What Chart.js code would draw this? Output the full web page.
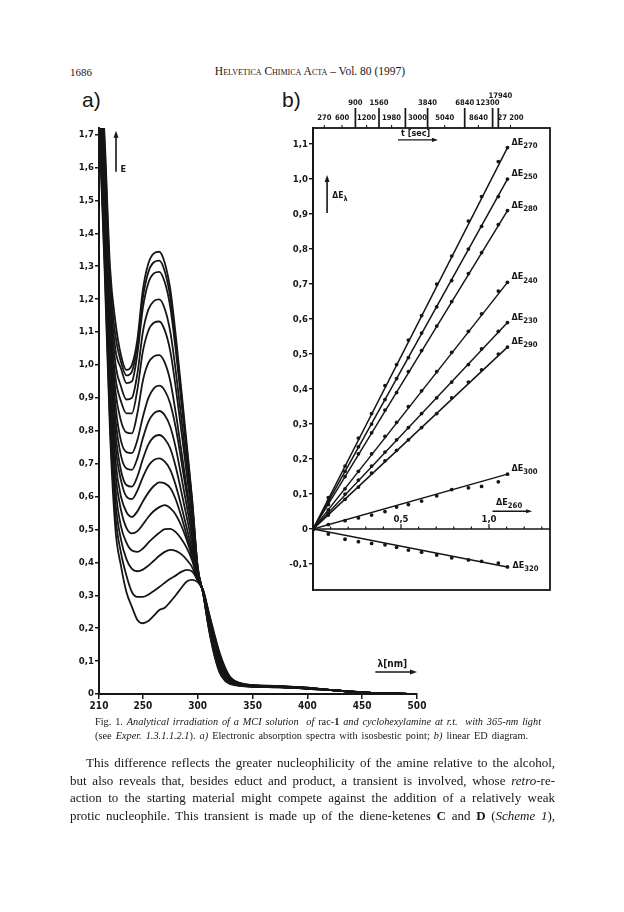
<!DOCTYPE html>
<html>
<head>
<meta charset="utf-8">
<script src="https://cdn.jsdelivr.net/npm/chart.js@4.4.1/dist/chart.umd.min.js"></script>
<style>
    body { margin: 0; background: #fff; width: 624px; height: 912px; position: relative; overflow: hidden;
           font-family: 'Liberation Serif', 'Times New Roman', serif; color: #161616; }
    .t { position: absolute; white-space: nowrap; }
    .sc { font-variant: small-caps; }
    .panel { position: absolute; font-family: 'Liberation Sans', Arial, sans-serif; font-size: 21px; line-height: 1; }
    #chartA { position: absolute; left: 40px; top: 110px; }
    #chartB { position: absolute; left: 270px; top: 80px; }
    .cap { position: absolute; left: 95px; width: 446px; font-size: 10.3px; line-height: 14px; text-align: justify; text-align-last: justify; }
    .body { position: absolute; left: 70px; width: 485px; font-size: 13px; line-height: 17.4px; text-align: justify; text-align-last: justify; }
    i { font-style: italic; }
</style>
</head>
<body>

<div class="t" style="left:70px; top:66px; font-size:11px;">1686</div>
<div class="t" style="left:0; width:620px; text-align:center; top:65px; font-size:11.5px;"><span class="sc">Helvetica Chimica Acta</span> – Vol. 80 (1997)</div>

<div class="panel" style="left:82px; top:89px;">a)</div>
<div class="panel" style="left:282px; top:89px;">b)</div>

<canvas id="chartA" width="400" height="606"></canvas>
<canvas id="chartB" width="300" height="520"></canvas>

<div class="cap" style="top:715px;">Fig. 1. <i>Analytical irradiation of a MCI solution&nbsp; of</i> rac-<b>1</b> <i>and cyclohexylamine at r.t.&nbsp; with 365-nm light</i></div>
<div class="cap" style="top:729px; width:433px;">(see <i>Exper. 1.3.1.1.2.1</i>). <i>a)</i> Electronic absorption spectra with isosbestic point; <i>b)</i> linear ED diagram.</div>

<div class="body" style="top:754px; left:86px; width:469px;">This difference reflects the greater nucleophilicity of the amine relative to the alcohol,</div>
<div class="body" style="top:771.5px;">but also reveals that, besides educt and product, a transient is involved, whose <i>retro</i>-re-</div>
<div class="body" style="top:789px;">action to the starting material might compete against the addition of a relatively weak</div>
<div class="body" style="top:806.5px;">protic nucleophile. This transient is made up of the diene-ketenes <b>C</b> and <b>D</b> (<i>Scheme 1</i>),</div>

<script>
// Panel a) - absorption spectra, one array per recorded spectrum
const wavelengths = [210, 215, 220, 225, 230, 235, 240, 245, 250, 255, 260, 265, 270, 275, 280, 285, 290, 295, 300,
                     305, 310, 315, 320, 325, 330, 340, 350, 375, 400, 425, 450, 475, 500];

const spec01 = [1.95, 1.70, 1.30, 1.13, 1.03, 0.985, 1.00, 1.078, 1.228, 1.308, 1.339, 1.344, 1.31, 1.23, 1.09, 0.927, 0.76, 0.59, 0.387,
                0.305, 0.20, 0.12, 0.065, 0.04, 0.03, 0.024, 0.022, 0.020, 0.016, 0.011, 0.005, 0.002, 0];
const spec02 = [1.937, 1.673, 1.267, 1.088, 1.01, 0.968, 0.98, 1.06, 1.204, 1.282, 1.312, 1.317, 1.284, 1.206, 1.069, 0.911, 0.748, 0.583, 0.385,
                0.306, 0.203, 0.124, 0.069, 0.043, 0.031, 0.025, 0.022, 0.020, 0.016, 0.011, 0.005, 0.002, 0];
const spec03 = [1.923, 1.647, 1.233, 1.046, 0.99, 0.945, 0.95, 1.033, 1.173, 1.249, 1.278, 1.283, 1.251, 1.176, 1.044, 0.891, 0.734, 0.574, 0.383,
                0.306, 0.207, 0.129, 0.073, 0.045, 0.033, 0.025, 0.023, 0.021, 0.016, 0.011, 0.005, 0.002, 0];
const spec04 = [1.91, 1.62, 1.20, 1.004, 0.935, 0.895, 0.90, 0.973, 1.10, 1.168, 1.194, 1.199, 1.17, 1.101, 0.981, 0.841, 0.698, 0.552, 0.378,
                0.307, 0.21, 0.133, 0.077, 0.048, 0.034, 0.026, 0.023, 0.021, 0.017, 0.011, 0.005, 0.002, 0];
const spec05 = [1.897, 1.593, 1.167, 0.962, 0.89, 0.853, 0.853, 0.925, 1.041, 1.104, 1.128, 1.132, 1.105, 1.042, 0.931, 0.802, 0.669, 0.535, 0.374,
                0.308, 0.213, 0.137, 0.081, 0.051, 0.035, 0.026, 0.023, 0.021, 0.017, 0.011, 0.005, 0.002, 0];
const spec06 = [1.883, 1.567, 1.133, 0.92, 0.83, 0.795, 0.792, 0.853, 0.952, 1.006, 1.026, 1.03, 1.007, 0.951, 0.854, 0.741, 0.626, 0.508, 0.368,
                0.308, 0.217, 0.142, 0.085, 0.053, 0.037, 0.027, 0.024, 0.021, 0.017, 0.011, 0.005, 0.002, 0];
const spec07 = [1.87, 1.54, 1.10, 0.878, 0.77, 0.735, 0.732, 0.772, 0.842, 0.899, 0.929, 0.937, 0.922, 0.882, 0.809, 0.711, 0.607, 0.497, 0.366,
                0.309, 0.22, 0.146, 0.089, 0.056, 0.038, 0.027, 0.024, 0.022, 0.017, 0.011, 0.005, 0.002, 0];
const spec08 = [1.857, 1.513, 1.067, 0.836, 0.725, 0.685, 0.681, 0.716, 0.777, 0.827, 0.853, 0.86, 0.847, 0.812, 0.748, 0.662, 0.572, 0.476, 0.363,
                0.310, 0.223, 0.150, 0.093, 0.059, 0.039, 0.028, 0.024, 0.022, 0.017, 0.011, 0.005, 0.002, 0];
const spec09 = [1.843, 1.487, 1.033, 0.794, 0.68, 0.635, 0.63, 0.661, 0.714, 0.758, 0.781, 0.787, 0.775, 0.746, 0.69, 0.616, 0.538, 0.455, 0.358,
                0.310, 0.227, 0.155, 0.097, 0.061, 0.041, 0.028, 0.025, 0.022, 0.018, 0.011, 0.005, 0.002, 0];
const spec10 = [1.83, 1.46, 1.00, 0.752, 0.65, 0.60, 0.592, 0.618, 0.659, 0.693, 0.711, 0.716, 0.706, 0.681, 0.634, 0.572, 0.505, 0.435, 0.353,
                0.311, 0.23, 0.159, 0.101, 0.064, 0.042, 0.029, 0.025, 0.022, 0.018, 0.011, 0.005, 0.002, 0];
const spec11 = [1.817, 1.433, 0.967, 0.71, 0.60, 0.553, 0.538, 0.555, 0.585, 0.612, 0.632, 0.643, 0.64, 0.626, 0.591, 0.54, 0.482, 0.422, 0.352,
                0.312, 0.233, 0.163, 0.105, 0.067, 0.043, 0.029, 0.025, 0.023, 0.018, 0.011, 0.005, 0.002, 0];
const spec12 = [1.803, 1.407, 0.933, 0.668, 0.56, 0.505, 0.488, 0.495, 0.515, 0.538, 0.556, 0.568, 0.574, 0.565, 0.545, 0.512, 0.468, 0.415, 0.35,
                0.312, 0.237, 0.168, 0.109, 0.069, 0.045, 0.030, 0.026, 0.023, 0.018, 0.011, 0.005, 0.002, 0];
const spec13 = [1.79, 1.38, 0.90, 0.626, 0.51, 0.46, 0.436, 0.432, 0.442, 0.46, 0.476, 0.49, 0.501, 0.502, 0.492, 0.472, 0.444, 0.405, 0.348,
                0.313, 0.24, 0.172, 0.113, 0.072, 0.046, 0.030, 0.026, 0.023, 0.018, 0.011, 0.005, 0.002, 0];
const spec14 = [1.777, 1.353, 0.867, 0.584, 0.47, 0.41, 0.38, 0.373, 0.378, 0.39, 0.405, 0.42, 0.432, 0.438, 0.435, 0.425, 0.408, 0.385, 0.345,
                0.314, 0.243, 0.176, 0.117, 0.075, 0.047, 0.031, 0.026, 0.023, 0.019, 0.011, 0.005, 0.002, 0];
const spec15 = [1.763, 1.327, 0.833, 0.542, 0.43, 0.36, 0.31, 0.295, 0.295, 0.302, 0.313, 0.325, 0.338, 0.35, 0.36, 0.371, 0.377, 0.372, 0.345,
                0.314, 0.247, 0.181, 0.121, 0.077, 0.049, 0.031, 0.027, 0.024, 0.019, 0.011, 0.005, 0.002, 0];
const spec16 = [1.75, 1.30, 0.80, 0.50, 0.39, 0.31, 0.265, 0.225, 0.215, 0.222, 0.238, 0.255, 0.262, 0.28, 0.30, 0.322, 0.342, 0.347, 0.34,
                0.315, 0.25, 0.185, 0.125, 0.08, 0.05, 0.032, 0.027, 0.024, 0.019, 0.011, 0.005, 0.002, 0];

const spectra = [spec01, spec02, spec03, spec04, spec05, spec06, spec07, spec08,
                 spec09, spec10, spec11, spec12, spec13, spec14, spec15, spec16];

const xTicksA = [210, 250, 300, 350, 400, 450, 500];
const yTicksA = [0, 0.1, 0.2, 0.3, 0.4, 0.5, 0.6, 0.7, 0.8, 0.9, 1.0, 1.1, 1.2, 1.3, 1.4, 1.5, 1.6, 1.7];

// Panel b) - linear ED diagram (ΔEλ against ΔE260)
const dE260 = [0, 0.087, 0.182, 0.258, 0.333, 0.409, 0.475, 0.542, 0.617, 0.703, 0.788, 0.883, 0.958, 1.053, 1.105];
const dE270 = [0, 0.09, 0.18, 0.26, 0.33, 0.41, 0.47, 0.54, 0.61, 0.70, 0.78, 0.88, 0.95, 1.05, 1.09];
const dE250 = [0, 0.08, 0.165, 0.235, 0.30, 0.37, 0.43, 0.49, 0.56, 0.635, 0.71, 0.80, 0.865, 0.95, 1.0];
const dE280 = [0, 0.07, 0.15, 0.215, 0.275, 0.34, 0.39, 0.45, 0.51, 0.58, 0.65, 0.73, 0.79, 0.87, 0.91];
const dE240 = [0, 0.055, 0.115, 0.165, 0.215, 0.265, 0.305, 0.35, 0.395, 0.45, 0.505, 0.565, 0.615, 0.68, 0.705];
const dE230 = [0, 0.045, 0.10, 0.14, 0.18, 0.22, 0.255, 0.29, 0.33, 0.375, 0.42, 0.47, 0.515, 0.565, 0.59];
const dE290 = [0, 0.04, 0.085, 0.12, 0.16, 0.195, 0.225, 0.255, 0.29, 0.33, 0.375, 0.42, 0.455, 0.50, 0.52];
const dE300 = [0, 0.013, 0.024, 0.032, 0.04, 0.05, 0.063, 0.07, 0.08, 0.095, 0.113, 0.118, 0.122, 0.135, 0.157];
const dE320 = [0, -0.014, -0.029, -0.036, -0.041, -0.045, -0.052, -0.06, -0.066, -0.074, -0.082, -0.088, -0.092, -0.097, -0.108];

const seriesB = [
    { sub: '270', values: dE270 },
    { sub: '250', values: dE250 },
    { sub: '280', values: dE280 },
    { sub: '240', values: dE240 },
    { sub: '230', values: dE230 },
    { sub: '290', values: dE290 },
    { sub: '300', values: dE300 },
    { sub: '320', values: dE320 }
];

// irradiation times (top axis), one per ΔE260 value after the origin
const timeLabels = ['270', '600', '900', '1200', '1560', '1980', '3000', '3840', '5040', '6840', '8640', '12300', '17940', '27 200'];
const timeRows = [0, 0, 1, 0, 1, 0, 0, 1, 0, 1, 0, 1, 2, 0];
const yTicksB = [-0.1, 0, 0.1, 0.2, 0.3, 0.4, 0.5, 0.6, 0.7, 0.8, 0.9, 1.0, 1.1];
const zeroTicksB = [0.1, 0.2, 0.3, 0.4, 0.5, 0.6, 0.7, 0.8, 0.9, 1.0, 1.1, 1.2, 1.3];

const ink = '#161616';
const fam = "'DejaVu Sans Condensed', 'DejaVu Sans', sans-serif";
const tickFont = { family: fam, weight: 'bold', size: 9.5 };

function commaLabel(v) {
    if (Math.abs(v) < 1e-9) return '0';
    return v.toFixed(1).replace('.', ',');
}

function arrow(ctx, x0, y0, x1, y1, head) {
    const a = Math.atan2(y1 - y0, x1 - x0);
    ctx.beginPath();
    ctx.moveTo(x0, y0);
    ctx.lineTo(x1 - Math.cos(a) * head * 0.6, y1 - Math.sin(a) * head * 0.6);
    ctx.stroke();
    ctx.beginPath();
    ctx.moveTo(x1, y1);
    ctx.lineTo(x1 - head * Math.cos(a) + head * 0.35 * Math.sin(a), y1 - head * Math.sin(a) - head * 0.35 * Math.cos(a));
    ctx.lineTo(x1 - head * Math.cos(a) - head * 0.35 * Math.sin(a), y1 - head * Math.sin(a) + head * 0.35 * Math.cos(a));
    ctx.closePath();
    ctx.fill();
}

function subLabel(ctx, main, sub, x, y, size) {
    ctx.font = `bold ${size}px ${fam}`;
    ctx.fillText(main, x, y);
    const w = ctx.measureText(main).width;
    ctx.font = `bold ${size * 0.85}px ${fam}`;
    ctx.fillText(sub, x + w, y + size * 0.35);
}

// Annotations for panel a: E arrow and wavelength label
const annotateA = {
    id: 'annotateA',
    afterDraw(chart) {
        const { ctx, scales: { x, y } } = chart;
        ctx.save();
        ctx.strokeStyle = ink;
        ctx.fillStyle = ink;
        ctx.lineWidth = 1.6;
        arrow(ctx, x.getPixelForValue(225.5), y.getPixelForValue(1.587), x.getPixelForValue(225.5), y.getPixelForValue(1.712), 7);
        ctx.font = `bold 9px ${fam}`;
        ctx.textAlign = 'left';
        ctx.textBaseline = 'alphabetic';
        ctx.fillText('E', x.getPixelForValue(229.5), y.getPixelForValue(1.585));

        ctx.font = `bold 10px ${fam}`;
        ctx.fillText('λ[nm]', x.getPixelForValue(464), y.getPixelForValue(0.082));
        ctx.lineWidth = 1.4;
        arrow(ctx, x.getPixelForValue(462), y.getPixelForValue(0.067), x.getPixelForValue(500), y.getPixelForValue(0.067), 7);
        ctx.restore();
    }
};

// label nudges along the top time axis (px), as laid out in the original figure
const labelShift = [-4, -3, -3, -5, -6, -5, 9, 6, 8, 13, 10, 6, 2, 3];
const barShift = { 2: -3, 4: -6, 6: -3, 7: 6, 9: 13, 11: 11, 12: 0 };

// Annotations for panel b: frame, ΔE260 axis, time axis and series labels
const annotateB = {
    id: 'annotateB',
    afterDraw(chart) {
        const { ctx, chartArea: area, scales: { x, y } } = chart;
        ctx.save();
        ctx.strokeStyle = ink;
        ctx.fillStyle = ink;

        ctx.lineWidth = 1.8;
        ctx.strokeRect(area.left, area.top, area.right - area.left, area.bottom - area.top);

        // ΔE260 axis through zero
        const y0 = y.getPixelForValue(0);
        ctx.lineWidth = 1.5;
        ctx.beginPath();
        ctx.moveTo(area.left, y0);
        ctx.lineTo(area.right, y0);
        ctx.stroke();
        ctx.lineWidth = 1.2;
        zeroTicksB.forEach(v => {
            const px = x.getPixelForValue(v);
            const major = Math.abs(v - 0.5) < 1e-6 || Math.abs(v - 1.0) < 1e-6;
            ctx.beginPath();
            ctx.moveTo(px, y0);
            ctx.lineTo(px, y0 - (major ? 5 : 2.5));
            ctx.stroke();
            if (major) {
                ctx.font = `bold 9.5px ${fam}`;
                ctx.textAlign = 'center';
                ctx.textBaseline = 'bottom';
                ctx.fillText(commaLabel(v), px, y0 - 5);
            }
        });

        // time axis on top
        const rowY = [area.top - 10, area.top - 25, area.top - 32];
        ctx.textBaseline = 'middle';
        timeLabels.forEach((lab, i) => {
            const px = x.getPixelForValue(dE260[i + 1]);
            const lx = px + labelShift[i];
            const row = timeRows[i];
            if (barShift[i] !== undefined) {
                ctx.lineWidth = 1.7;
                ctx.beginPath();
                ctx.moveTo(px + barShift[i], area.top);
                ctx.lineTo(px + barShift[i], area.top - 20);
                ctx.stroke();
            }
            if (row === 0 && i !== 6) {
                ctx.lineWidth = 1.1;
                ctx.beginPath();
                ctx.moveTo(lx, area.top);
                ctx.lineTo(lx, area.top - 3);
                ctx.stroke();
            }
            ctx.font = `bold 7.6px ${fam}`;
            ctx.textAlign = 'center';
            ctx.fillText(lab, lx, rowY[row]);
        });

        ctx.textBaseline = 'alphabetic';
        ctx.textAlign = 'left';
        ctx.font = `bold 9px ${fam}`;
        ctx.fillText('t [sec]', x.getPixelForValue(0.5), y.getPixelForValue(1.124));
        ctx.lineWidth = 1.3;
        arrow(ctx, x.getPixelForValue(0.483), y.getPixelForValue(1.112), x.getPixelForValue(0.71), y.getPixelForValue(1.112), 6);

        // ΔEλ arrow
        ctx.lineWidth = 1.6;
        arrow(ctx, x.getPixelForValue(0.08), y.getPixelForValue(0.903), x.getPixelForValue(0.08), y.getPixelForValue(1.012), 7);
        subLabel(ctx, 'ΔE', 'λ', x.getPixelForValue(0.11), y.getPixelForValue(0.945), 8.5);

        // ΔE260 label with arrow
        subLabel(ctx, 'ΔE', '260', x.getPixelForValue(1.04), y.getPixelForValue(0.068), 9);
        ctx.lineWidth = 1.3;
        arrow(ctx, x.getPixelForValue(1.02), y.getPixelForValue(0.051), x.getPixelForValue(1.245), y.getPixelForValue(0.051), 6);

        // series end labels
        seriesB.forEach(s => {
            const last = s.values.length - 1;
            const px = x.getPixelForValue(dE260[last]);
            const py = y.getPixelForValue(s.values[last]);
            if (s.sub === '320') {
                subLabel(ctx, 'ΔE', s.sub, px + 5, py + 1, 9);
            } else {
                subLabel(ctx, 'ΔE', s.sub, px + 4, py - 3, 9);
            }
        });
        ctx.restore();
    }
};

// Chart a)
new Chart(document.getElementById('chartA'), {
    type: 'line',
    data: {
        datasets: spectra.map(s => ({
            data: wavelengths.map((w, i) => ({ x: w, y: s[i] })),
            borderColor: ink,
            borderWidth: 1.8,
            pointRadius: 0,
            fill: false,
            cubicInterpolationMode: 'monotone'
        }))
    },
    options: {
        responsive: false,
        animation: false,
        layout: { padding: { top: 18, right: 23, left: 0, bottom: 0 } },
        plugins: { legend: { display: false }, tooltip: { enabled: false } },
        scales: {
            x: {
                type: 'linear',
                min: 210,
                max: 500,
                afterBuildTicks: scale => { scale.ticks = xTicksA.map(v => ({ value: v })); },
                afterFit: scale => { scale.height = 22; },
                ticks: { color: ink, font: { family: fam, weight: 'bold', size: 10 }, maxRotation: 0, padding: 1, callback: v => String(v) },
                grid: { display: true, drawOnChartArea: false, drawTicks: true, tickLength: 5, color: ink, lineWidth: 1.5 },
                border: { display: true, color: ink, width: 2 }
            },
            y: {
                min: 0,
                max: 1.72,
                afterBuildTicks: scale => { scale.ticks = yTicksA.map(v => ({ value: v })); },
                afterFit: scale => { scale.width = 59; },
                ticks: { color: ink, font: tickFont, padding: 1, callback: v => commaLabel(v) },
                grid: { display: true, drawOnChartArea: false, drawTicks: true, tickLength: 4, color: ink, lineWidth: 1.5 },
                border: { display: true, color: ink, width: 2 }
            }
        }
    },
    plugins: [annotateA]
});

// Chart b)
const datasetsB = [];
seriesB.forEach(s => {
    const last = s.values.length - 1;
    datasetsB.push({
        type: 'line',
        data: [{ x: dE260[0], y: s.values[0] }, { x: dE260[last], y: s.values[last] }],
        borderColor: ink,
        borderWidth: 1.5,
        pointRadius: 0,
        fill: false
    });
    datasetsB.push({
        type: 'scatter',
        data: dE260.map((v, i) => ({ x: v, y: s.values[i] })),
        showLine: false,
        pointRadius: 1.9,
        pointBackgroundColor: ink,
        pointBorderWidth: 0
    });
});

new Chart(document.getElementById('chartB'), {
    type: 'scatter',
    data: { datasets: datasetsB },
    options: {
        responsive: false,
        animation: false,
        layout: { padding: { top: 48, right: 20, left: 0, bottom: 10 } },
        plugins: { legend: { display: false }, tooltip: { enabled: false } },
        scales: {
            x: { type: 'linear', min: 0, max: 1.3466, display: false },
            y: {
                min: -0.174,
                max: 1.146,
                afterBuildTicks: scale => { scale.ticks = yTicksB.map(v => ({ value: v })); },
                afterFit: scale => { scale.width = 43; },
                ticks: { color: ink, font: tickFont, padding: 1, callback: v => commaLabel(v) },
                grid: { display: true, drawOnChartArea: false, drawTicks: true, tickLength: 4, color: ink, lineWidth: 1.4 },
                border: { display: true, color: ink, width: 1.8 }
            }
        }
    },
    plugins: [annotateB]
});
</script>
</body>
</html>
